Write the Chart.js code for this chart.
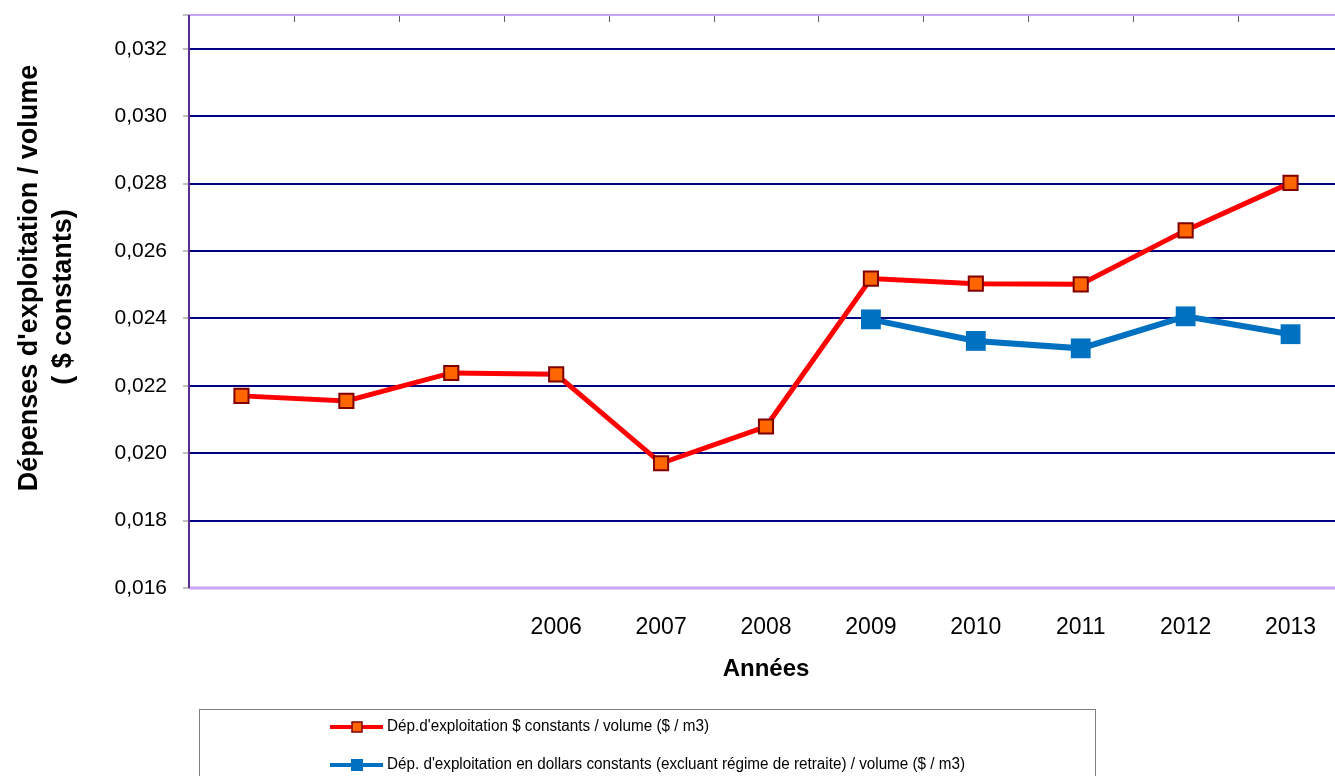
<!DOCTYPE html>
<html>
<head>
<meta charset="utf-8">
<script src="https://cdn.jsdelivr.net/npm/chart.js@4/dist/chart.umd.min.js"></script>
<style>
  html, body { margin: 0; padding: 0; background: #fff; width: 1335px; height: 776px; overflow: hidden; }
  #c { display: block; }
</style>
</head>
<body>
<!-- the plot runs a little past the right edge of the window, as in the original -->
<canvas id="c" width="1357" height="776"></canvas>
<script>
// categories (first three years have no label in the original)
const years = ['', '', '', '2006', '2007', '2008', '2009', '2010', '2011', '2012', '2013'];

// Dép.d'exploitation $ constants / volume ($ / m3)
const depConstants = [0.02170, 0.02155, 0.02238, 0.02234, 0.01970, 0.02079, 0.02518, 0.02503, 0.02501, 0.02661, 0.02802];

// Dép. d'exploitation en dollars constants (excluant régime de retraite) / volume ($ / m3)
const depSansRetraite = [null, null, null, null, null, null, 0.02397, 0.02333, 0.02311, 0.02406, 0.02353];

const seriesNames = [
  "Dép.d'exploitation $ constants / volume ($ / m3)",
  "Dép. d'exploitation en dollars constants (excluant régime de retraite) / volume ($ / m3)"
];

const yTitle = ["Dépenses d'exploitation / volume", '( $ constants)'];

const FONT = "'Liberation Sans', Arial, sans-serif";

// plot frame + little tick marks along the top edge
const framePlugin = {
  id: 'frame',
  afterDatasetsDraw(chart) {
    const { ctx, chartArea: a } = chart;
    const x = chart.scales.x;
    ctx.save();
    ctx.strokeStyle = '#606060';
    ctx.lineWidth = 1;
    for (let i = 0; i < years.length - 1; i++) {
      const bx = Math.round((x.getPixelForValue(i) + x.getPixelForValue(i + 1)) / 2) + 0.5;
      ctx.beginPath();
      ctx.moveTo(bx, a.top);
      ctx.lineTo(bx, a.top + 7);
      ctx.stroke();
    }
    ctx.strokeStyle = '#c9a3f5';
    ctx.lineWidth = 2;
    ctx.beginPath();
    ctx.moveTo(a.left, a.top);
    ctx.lineTo(a.right, a.top);
    ctx.stroke();
    ctx.lineWidth = 3;
    ctx.beginPath();
    ctx.moveTo(a.left, a.bottom);
    ctx.lineTo(a.right, a.bottom);
    ctx.stroke();
    ctx.strokeStyle = '#5a2d91';
    ctx.lineWidth = 2;
    ctx.beginPath();
    ctx.moveTo(a.left, a.top);
    ctx.lineTo(a.left, a.bottom);
    ctx.stroke();
    ctx.restore();
  }
};

// rotated two-line axis title and boxed legend under the chart
const textPlugin = {
  id: 'boxLegend',
  afterDraw(chart) {
    const ctx = chart.ctx;
    ctx.save();
    ctx.fillStyle = '#000';
    ctx.font = 'bold 27px ' + FONT;
    ctx.textAlign = 'center';
    ctx.textBaseline = 'middle';
    [[30, 278], [64, 297]].forEach(([tx, ty], i) => {
      ctx.save();
      ctx.translate(tx, ty);
      ctx.rotate(-Math.PI / 2);
      ctx.fillText(yTitle[i], 0, 0);
      ctx.restore();
    });

    ctx.strokeStyle = '#808080';
    ctx.lineWidth = 1;
    ctx.strokeRect(199.5, 709.5, 896, 100);
    const rows = [727, 765];
    const widths = [322, 578];
    chart.data.datasets.forEach((ds, i) => {
      const y = rows[i];
      ctx.strokeStyle = ds.borderColor;
      ctx.lineWidth = 4;
      ctx.beginPath();
      ctx.moveTo(330, y);
      ctx.lineTo(383, y);
      ctx.stroke();
      const s = i === 0 ? 10 : 12;
      ctx.fillStyle = ds.pointBackgroundColor;
      ctx.fillRect(357 - s / 2, y - s / 2, s, s);
      if (i === 0) {
        ctx.strokeStyle = ds.pointBorderColor;
        ctx.lineWidth = 1.5;
        ctx.strokeRect(357 - s / 2, y - s / 2, s, s);
      }
      ctx.fillStyle = '#000';
      ctx.font = '16px ' + FONT;
      ctx.textBaseline = 'middle';
      ctx.textAlign = 'left';
      ctx.fillText(ds.label, 387, y, widths[i]);
    });
    ctx.restore();
  }
};

new Chart(document.getElementById('c'), {
  type: 'line',
  data: {
    labels: years,
    datasets: [
      {
        label: seriesNames[0],
        data: depConstants,
        borderColor: '#ff0000',
        borderWidth: 5,
        pointStyle: 'rect',
        pointRadius: 10,
        pointBackgroundColor: '#ff6600',
        pointBorderColor: '#800000',
        pointBorderWidth: 2,
        tension: 0
      },
      {
        label: seriesNames[1],
        data: depSansRetraite,
        borderColor: '#0070c0',
        borderWidth: 6,
        pointStyle: 'rect',
        pointRadius: 14,
        pointBackgroundColor: '#0070c0',
        pointBorderColor: '#0070c0',
        pointBorderWidth: 0,
        tension: 0
      }
    ]
  },
  options: {
    responsive: false,
    animation: false,
    devicePixelRatio: 1,
    layout: { padding: { top: 15, right: 0, bottom: 88, left: 0 } },
    plugins: {
      legend: { display: false },
      tooltip: { enabled: false }
    },
    scales: {
      x: {
        offset: true,
        grid: { display: false, drawTicks: false },
        border: { display: false },
        ticks: {
          color: '#000',
          padding: 26,
          maxRotation: 0,
          autoSkip: false,
          font: { family: FONT, size: 23 }
        },
        title: {
          display: true,
          text: 'Années',
          color: '#000',
          padding: { top: 0, bottom: 4 },
          font: { family: FONT, size: 24, weight: 'bold' }
        },
        afterFit(s) {
          s.height = 100;
          s.paddingLeft = 0;
          s.paddingRight = 0;
        }
      },
      y: {
        min: 0.016,
        max: 0.033,
        ticks: {
          stepSize: 0.002,
          color: '#000',
          padding: 16,
          font: { family: FONT, size: 21 },
          callback: v => (Math.round(v * 1000) % 2 === 0 ? v.toFixed(3).replace('.', ',') : '')
        },
        grid: {
          color: c => {
            const k = Math.round(c.tick.value * 1000);
            return (k === 16 || k % 2 !== 0) ? 'rgba(0,0,0,0)' : '#000080';
          },
          lineWidth: 2,
          tickColor: '#808080',
          tickLength: 6,
          tickWidth: 1
        },
        border: { display: false },
        afterFit(s) {
          s.width = 189;
          s.paddingTop = 0;
          s.paddingBottom = 0;
        }
      }
    }
  },
  plugins: [framePlugin, textPlugin]
});
</script>
</body>
</html>
